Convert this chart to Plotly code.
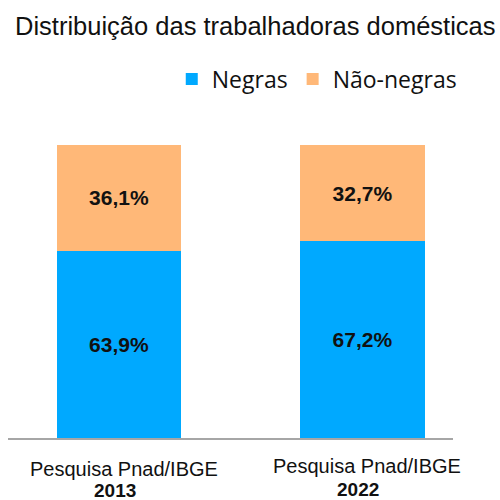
import plotly.graph_objects as go

categories = ["2013", "2022"]
negras = [63.9, 67.2]
nao_negras = [36.1, 32.7]
label_line = "Pesquisa Pnad/IBGE"
series_names = ["Negras", "Não-negras"]
colors = ["#00A9FF", "#FFB878"]

def fmt(v):
    return f"{v:.1f}".replace(".", ",") + "%"

fig = go.Figure()
for name, vals, col in zip(series_names, [negras, nao_negras], colors):
    fig.add_trace(go.Bar(
        x=categories, y=vals, name=name, marker=dict(color=col, line=dict(width=0)),
        text=[fmt(v) for v in vals], textposition="inside", insidetextanchor="middle",
        textfont=dict(family="Liberation Sans, Arial", size=21, color="#111111"),
        texttemplate="<b>%{text}</b>", width=0.51, hoverinfo="skip",
    ))

annotations = []
for i, c in enumerate(categories):
    dy = 0 if i == 0 else -1
    annotations.append(dict(x=i, y=0, xref="x", yref="paper", yanchor="top",
                            text=label_line, showarrow=False, xshift=5, yshift=-18 - (0 if i == 0 else -3),
                            font=dict(family="Liberation Sans, Arial", size=20, color="#111111")))
    annotations.append(dict(x=i, y=0, xref="x", yref="paper", yanchor="top",
                            text=f"<b>{c}</b>", showarrow=False, xshift=-4, yshift=-40 - dy,
                            font=dict(family="Liberation Sans, Arial", size=19, color="#111111")))

fig.update_layout(
    width=500, height=500,
    barmode="stack",
    plot_bgcolor="white", paper_bgcolor="white",
    margin=dict(l=8, r=47, t=145, b=62),
    title=dict(text="Distribuição das trabalhadoras domésticas", x=0.03, xanchor="left",
               y=1 - 26 / 500, yanchor="middle",
               font=dict(family="Liberation Sans, Arial", size=25.5, color="#111111")),
    legend=dict(orientation="h", x=0.368, xanchor="left", y=1.225, yanchor="middle",
                traceorder="normal", font=dict(family="Open Sans", size=23, color="#111111"),
                itemclick=False),
    xaxis=dict(type="category", range=[-0.456, 1.372], showline=True, linecolor="#A6A6A6",
               linewidth=1.5, showticklabels=False, ticks="", showgrid=False, zeroline=False),
    yaxis=dict(range=[0, 100], visible=False, showgrid=False),
    annotations=annotations,
    showlegend=True,
)

fig.write_html("out.html", post_script="document.body.style.margin='0';",
               config={"displayModeBar": False})
